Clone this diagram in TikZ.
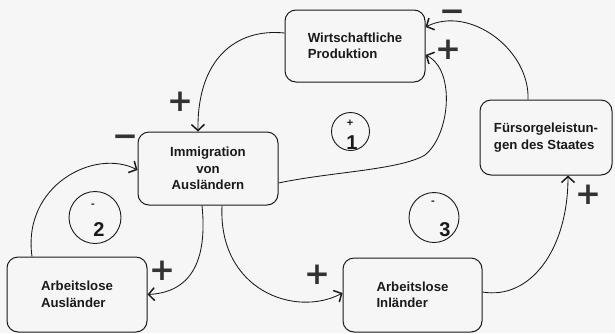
\documentclass[tikz,border=0pt]{standalone}
\usepackage{fontspec}
\setmainfont{Liberation Sans}
\newfontfamily\signfont{DejaVu Sans}
\usetikzlibrary{arrows.meta}

\definecolor{ink}{HTML}{1A1A1A}
\definecolor{signgrey}{HTML}{333333}
\definecolor{paper}{HTML}{F6F6F6}

\tikzset{
  box/.style={draw=ink, line width=1pt, rounded corners=11pt, inner sep=0pt,
    text=ink, font=\bfseries\fontsize{13.2}{16.5}\selectfont},
  link/.style={draw=ink, line width=0.85pt,
    -{Straight Barb[length=6pt,width=13pt,line width=1.5pt]}},
  sign/.style={inner sep=0pt, text=signgrey,
    font=\signfont\bfseries\fontsize{31}{31}\selectfont},
  loopc/.style={draw=ink, circle, line width=0.9pt, inner sep=0pt},
  looptag/.style={inner sep=0pt, text=ink, font=\bfseries\fontsize{11}{11}\selectfont},
  loopnum/.style={inner sep=0pt, text=ink, font=\bfseries\fontsize{20}{20}\selectfont},
}

\begin{document}
\begin{tikzpicture}[x=1pt,y=-1pt]
\useasboundingbox[fill=paper] (0,0) rectangle (615,333);

% factors
\node[box, minimum width=140pt, minimum height=72pt, align=left] (prod) at (355,46) {Wirtschaftliche\\Produktion};
\node[box, minimum width=132pt, minimum height=75pt, align=left] (fuer) at (546,137.5) {Fürsorgeleistun-\\gen des Staates};
\node[box, minimum width=140pt, minimum height=73pt, align=center] (immig) at (208,168.5) {Immigration\\von\\Ausländern};
\node[box, minimum width=140pt, minimum height=75pt, align=left] (ausl) at (77,294.5) {Arbeitslose\\Ausländer};
\node[box, minimum width=139pt, minimum height=74pt, align=left] (inl) at (412.5,295) {Arbeitslose\\Inländer};

% influences
\draw[link] ([yshift=13pt]prod.west) .. controls (235,28) and (197,60) .. ([xshift=-10pt]immig.north);
\draw[link] ([xshift=-18pt]fuer.north) .. controls (530,50) and (470,5) .. ([yshift=19pt]prod.east);
\draw[link] ([yshift=-14.5pt]immig.east) .. controls (330,172) and (400,170) .. (425,155)
            .. controls (450,135) and (456,70) .. ([yshift=-9pt]prod.east);
\draw[link] ([yshift=3pt]inl.east) .. controls (530,300) and (568,250) .. ([xshift=22pt]fuer.south);
\draw[link] ([xshift=14pt]immig.south) .. controls (218,290) and (295,318) .. ([yshift=2pt]inl.west);
\draw[link] ([xshift=-6pt]immig.south) .. controls (207,255) and (195,292) .. (ausl.east);
\draw[link] ([xshift=-45pt]ausl.north) .. controls (22,185) and (95,148) .. ([yshift=-1.5pt]immig.west);

% polarities
\node[sign] (sA) at (180,102) {+};
\node[sign] (sB) at (452,16) {−};
\node[sign] (sG) at (448,50) {+};
\node[sign] (sC) at (588,195) {+};
\node[sign] (sD) at (317,275) {+};
\node[sign] (sE) at (162,271) {+};
\node[sign] (sF) at (125,141) {−};

% loop markers
\node[loopc, minimum size=38pt] (loop1) at (350.5,131.5) {};
\node[looptag] (tag1) at (350,123) {+};
\node[loopnum] (num1) at (352,143) {1};

\node[loopc, minimum size=52pt] (loop2) at (95,217.5) {};
\node[looptag] (tag2) at (93,206) {-};
\node[loopnum] (num2) at (99,230) {2};

\node[loopc, minimum size=50pt] (loop3) at (434,217.5) {};
\node[looptag] (tag3) at (433,203) {-};
\node[loopnum] (num3) at (445,230) {3};
\end{tikzpicture}
\end{document}
